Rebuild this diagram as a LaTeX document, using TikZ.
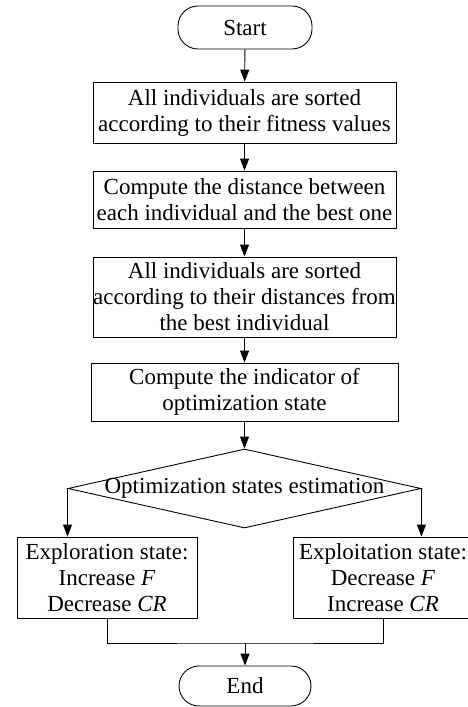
\documentclass[tikz,border=0pt]{standalone}
\usepackage{fontspec}
\setmainfont{Liberation Serif}
\usetikzlibrary{arrows.meta,shapes.geometric}
\begin{document}
\begin{tikzpicture}[x=1pt,y=-1pt,
  base/.style={draw, line width=0.9pt, inner sep=0pt, align=center,
    font=\fontsize{23}{26}\selectfont},
  term/.style={base, rounded corners=20pt},
  proc/.style={base, minimum width=303pt},
  side/.style={base, minimum width=180pt, minimum height=81pt},
  arr/.style={line width=0.9pt, -{Triangle[length=12pt,width=9pt]}},
  conn/.style={line width=0.9pt}]
\useasboundingbox (0,0) rectangle (467,707);
\node[term, minimum width=134pt, minimum height=43pt] (start) at (245,27.5) {Start};
\node[proc, minimum height=61pt] (b1) at (244.5,112.5)
  {All individuals are sorted\\according to their fitness values};
\node[proc, minimum height=57pt] (b2) at (244.5,199.5)
  {Compute the distance between\\each individual and the best one};
\node[proc, minimum height=80pt] (b3) at (244.5,297)
  {All individuals are sorted\\according to their distances from\\the best individual};
\node[proc, minimum width=307pt, minimum height=58pt] (b4) at (244.5,392)
  {Compute the indicator of\\optimization state};
\node[diamond, draw, line width=0.9pt, inner sep=0pt, minimum width=353pt,
  minimum height=79pt, font=\fontsize{23}{26}\selectfont] (d) at (244.5,488.5)
  {\makebox[0pt]{Optimization states estimation}};
\node[side] (L) at (107,577.5)
  {Exploration state:\\Increase \textit{F}\\Decrease \textit{CR}};
\node[side] (R) at (383,577.5)
  {Exploitation state:\\Decrease \textit{F}\\Increase \textit{CR}};
\node[term, minimum width=132pt, minimum height=40pt] (end) at (245,686) {End};
\coordinate (m) at (245,643);
\draw[arr] (start) -- (b1);
\draw[arr] (b1) -- (b2);
\draw[arr] (b2) -- (b3);
\draw[arr] (b3) -- (b4);
\draw[arr] (b4) -- (d);
\draw[arr] (d.west) -- (d.west |- L.north);
\draw[arr] (d.east) -- (d.east |- R.north);
\draw[conn] (L.south) |- (m) -| (R.south);
\draw[arr] (m) -- (end);
\end{tikzpicture}
\end{document}
